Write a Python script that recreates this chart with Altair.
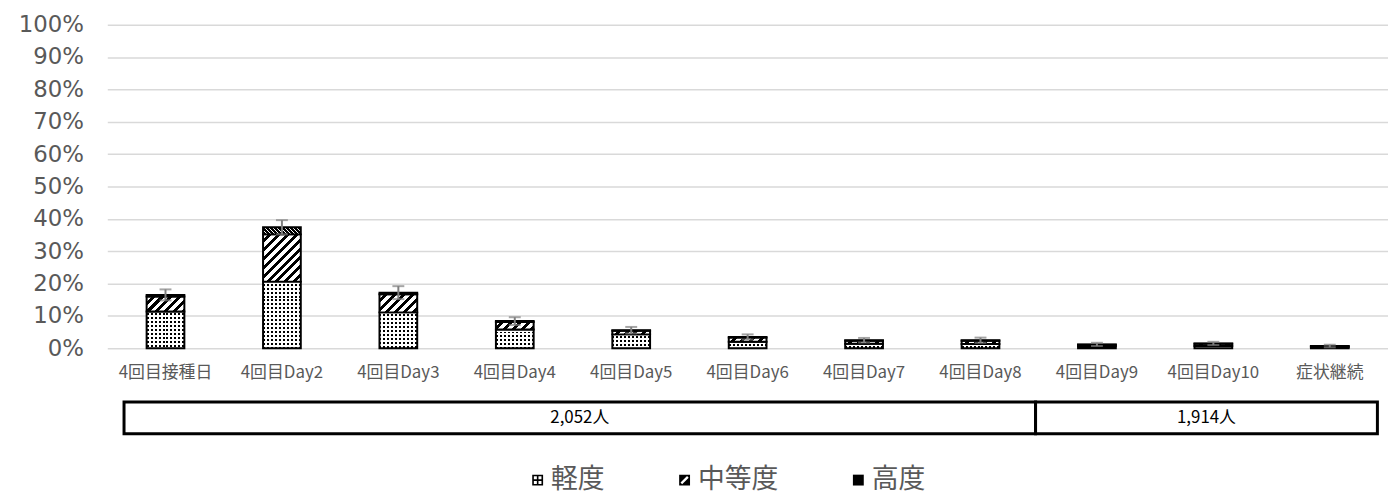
import altair as alt

# ---------------- data ----------------
categories = ["4回目接種日", "4回目Day2", "4回目Day3", "4回目Day4", "4回目Day5",
              "4回目Day6", "4回目Day7", "4回目Day8", "4回目Day9", "4回目Day10", "症状継続"]
severities = ["軽度", "中等度", "高度"]
mild =     [11.4, 20.6, 11.1, 5.8, 4.3, 2.0, 1.4, 1.3, 0.6, 0.7, 0.3]
moderate = [4.6, 14.6, 5.6, 2.3, 1.1, 1.3, 0.9, 1.0, 0.5, 0.7, 0.3]
severe =   [0.5, 2.2, 0.5, 0.3, 0.2, 0.2, 0.2, 0.2, 0.1, 0.1, 0.1]
err =      [1.7, 2.2, 2.0, 1.2, 1.0, 0.8, 0.7, 0.8, 0.5, 0.5, 0.4]
y_ticks = [0, 0.1, 0.2, 0.3, 0.4, 0.5, 0.6, 0.7, 0.8, 0.9, 1.0]
group_labels = ["2,052人", "1,914人"]
group_start = [0, 8]
group_end = [8, 11]

# ---------------- styling ----------------
PLOT_W = 1290
PLOT_H = 326
BAR_W = 38
BOX_H = 32
GRAY = "#595959"
JP = "Noto Sans CJK JP"
ERR_C = "#7f7f7f"


def stripe_stops(n, frac, on, off):
    stops = []
    i = 0
    while i < n:
        a = i / n
        b = min((i + frac) / n, 1.0)
        c = min((i + 1) / n, 1.0)
        stops += [{"offset": a, "color": on}, {"offset": b, "color": on},
                  {"offset": b, "color": off}, {"offset": c, "color": off}]
        i += 1
    return stops


def vertical_stripes(w, period):
    return {"gradient": "linear", "x1": 0, "y1": 0, "x2": 1, "y2": 0,
            "stops": stripe_stops(w / period, 0.5, "#000000", "#ffffff")}


def horizontal_mask(h, period):
    return {"gradient": "linear", "x1": 0, "y1": 0, "x2": 0, "y2": 1,
            "stops": stripe_stops(max(h, 0.01) / period, 0.5, "#ffffff", "rgba(255,255,255,0)")}


def diag_up(w, h, period, frac):
    h = max(h, 0.01)
    s = (w + h) / (w * w + h * h)
    return {"gradient": "linear", "x1": 0, "y1": 0, "x2": w * s, "y2": h * s,
            "stops": stripe_stops((w + h) / period, frac, "#ffffff", "#000000")}


def diag_down(w, h, period, frac):
    h = max(h, 0.01)
    s = (w + h) / (w * w + h * h)
    return {"gradient": "linear", "x1": 0, "y1": 1, "x2": w * s, "y2": 1 - h * s,
            "stops": stripe_stops((w + h) / period, frac, "#ffffff", "#000000")}


dots_base = vertical_stripes(BAR_W, 4.0)

bar_rows = []
err_rows = []
for i, c in enumerate(categories):
    m, d, s = mild[i] / 100, moderate[i] / 100, severe[i] / 100
    bar_rows.append({"cat": c, "sev": severities[0], "lo": 0, "hi": m,
                     "g1": dots_base, "g2": horizontal_mask(m * PLOT_H, 4.0)})
    bar_rows.append({"cat": c, "sev": severities[1], "lo": m, "hi": m + d,
                     "g1": dots_base, "g2": diag_up(BAR_W, d * PLOT_H, 9.0, 0.55)})
    bar_rows.append({"cat": c, "sev": severities[2], "lo": m + d, "hi": m + d + s,
                     "g1": dots_base, "g2": diag_down(BAR_W, s * PLOT_H, 4.0, 0.3)})
    tot = m + d + s
    e = err[i] / 100
    err_rows.append({"cat": c, "elo": tot - e, "ehi": tot + e})

bar_data = alt.Data(values=bar_rows)
err_data = alt.Data(values=err_rows)

x_scale = alt.Scale(paddingInner=0, paddingOuter=0)
x_axis = alt.Axis(title=None, labelAngle=0, labelFont=JP, labelFontSize=17,
                  labelColor=GRAY, ticks=False, domain=False, labelPadding=16,
                  grid=False, labelOverlap=False)
y_scale = alt.Scale(domain=[0, 1], nice=False)
y_axis = alt.Axis(title=None, values=y_ticks, tickCount=len(y_ticks), format=".0%",
                  labelFont="DejaVu Sans", labelFontSize=23, labelColor=GRAY,
                  labelPadding=24, labelOverlap=False, labelBound=False,
                  ticks=False, domain=False, grid=True, gridColor="#d9d9d9", gridWidth=1.5,
                  minExtent=100, maxExtent=100)


def X():
    return alt.X("cat:N", sort=categories, scale=x_scale, axis=x_axis)


def Y(field):
    return alt.Y(field, scale=y_scale, axis=y_axis)


base = alt.Chart(bar_data)
mild_base = base.transform_filter(alt.datum.sev == severities[0]).mark_bar(
    size=BAR_W, strokeWidth=0).encode(
    x=X(), y=Y("lo:Q"), y2="hi:Q", fill=alt.Fill("g1:N", scale=None))
segments = base.mark_bar(size=BAR_W, stroke="#000000", strokeWidth=2).encode(
    x=X(), y=Y("lo:Q"), y2="hi:Q", fill=alt.Fill("g2:N", scale=None))

eb = alt.Chart(err_data)
err_rule = eb.mark_rule(color=ERR_C, strokeWidth=2).encode(x=X(), y=Y("elo:Q"), y2="ehi:Q")
cap_top = eb.mark_tick(color=ERR_C, thickness=2, size=12).encode(x=X(), y=Y("ehi:Q"))
cap_bot = eb.mark_tick(color=ERR_C, thickness=2, size=12).encode(x=X(), y=Y("elo:Q"))

main = alt.layer(mild_base, segments, err_rule, cap_top, cap_bot).properties(
    width=PLOT_W, height=PLOT_H)

# ---------------- group box below ----------------
box_rows = [{"label": l, "s": s, "e": e, "m": (s + e) / 2}
            for l, s, e in zip(group_labels, group_start, group_end)]
bx = alt.Chart(alt.Data(values=box_rows))
bx_scale = alt.Scale(domain=[-0.147, 11.093], nice=False, zero=False)
cells = bx.mark_rect(fill="#ffffff", stroke="#000000", strokeWidth=3).encode(
    x=alt.X("s:Q", scale=bx_scale, axis=None), x2="e:Q")
cell_text = bx.mark_text(font=JP, fontSize=17, color="#000000").encode(
    x=alt.X("m:Q", scale=bx_scale, axis=None), text="label:N")

P_MILD = ("M-1,-1H1V1H-1Z M-0.7,-0.7V-0.15H-0.15V-0.7Z M0.15,-0.7V-0.15H0.7V-0.7Z "
          "M-0.7,0.15V0.7H-0.15V0.15Z M0.15,0.15V0.7H0.7V0.15Z")
P_MOD = "M-1,-1H1V1H-1Z M-0.75,0.45L-0.45,0.75L0.75,-0.45L0.45,-0.75Z"
P_SEV = "M-1,-1H1V1H-1Z"

leg = alt.Chart(alt.Data(values=[{"sev": s} for s in severities])).mark_point(
    filled=True, color="#000000", opacity=0).encode(
    shape=alt.Shape("sev:N", scale=alt.Scale(domain=severities, range=[P_MILD, P_MOD, P_SEV]),
                    legend=alt.Legend(orient="none", legendX=420, legendY=445,
                                      direction="horizontal", title=None,
                                      labelFont=JP, labelFontSize=27, labelColor=GRAY,
                                      symbolSize=120, symbolFillColor="#000000",
                                      symbolStrokeColor="#000000",
                                      symbolStrokeWidth=0, symbolOpacity=1,
                                      columnPadding=67, labelOffset=0, padding=0)))

box = alt.layer(cells, cell_text, leg).properties(width=PLOT_W, height=BOX_H)

chart = alt.vconcat(main, box, spacing=20).properties(
    padding={"top": 4, "left": 0, "right": 0, "bottom": 0}
).configure(font=JP).configure_view(strokeWidth=0)

chart.save("out.html", embed_options={"renderer": "svg", "actions": False})
